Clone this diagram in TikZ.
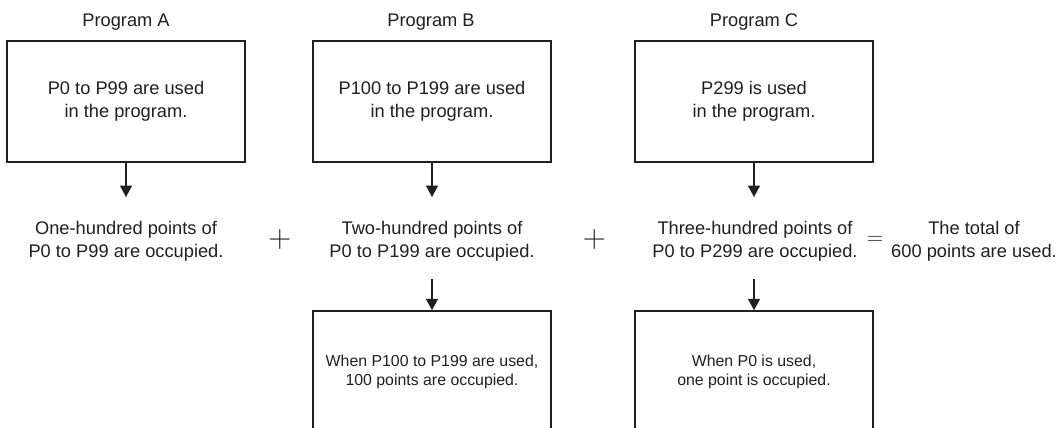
\documentclass[tikz,border=0pt]{standalone}
\usepackage{fontspec}
\setmainfont{Liberation Sans}
\newfontfamily\lmrfont{Latin Modern Roman}
\usetikzlibrary{arrows.meta}
\definecolor{ink}{RGB}{35,31,32}
\newcommand\txtmain{\fontsize{13.7}{17.2}\selectfont}
\newcommand\txtsml{\fontsize{11.9}{14.3}\selectfont}
\tikzset{
  progbox/.style={draw=ink, line width=1.2pt, minimum width=178.5pt, minimum height=90.75pt,
    align=center, inner sep=0pt, font=\txtmain, text=ink},
  smallbox/.style={progbox, font=\txtsml},
  title/.style={anchor=base, inner sep=0pt, font=\txtmain, text=ink},
  midtext/.style={align=center, inner sep=0pt, font=\txtmain, text=ink},
  opsign/.style={inner sep=0pt, text=ink},
  arr/.style={draw=ink, line width=0.9pt, -{Triangle[width=9pt,length=8.5pt]}}
}
\begin{document}
\begin{tikzpicture}[x=0.75pt,y=-0.75pt]
\clip (0,0) rectangle (1063,428);
\fill[white] (0,0) rectangle (1063,428);
% titles
\node[title] (tA) at (126,27) {Program A};
\node[title] (tB) at (431,27) {Program B};
\node[title] (tC) at (754,27) {Program C};
% top boxes
\node[progbox] (boxA) at (126,101.5) {P0 to P99 are used\\in the program.};
\node[progbox] (boxB) at (432,101.5) {P100 to P199 are used\\in the program.};
\node[progbox] (boxC) at (754,101.5) {P299 is used\\in the program.};
% middle texts
\node[midtext] (midA) at (126,241) {One-hundred points of\\P0 to P99 are occupied.};
\node[midtext] (midB) at (432,241) {Two-hundred points of\\P0 to P199 are occupied.};
\node[midtext] (midC) at (755,241) {Three-hundred points of\\P0 to P299 are occupied.};
\node[midtext] (total) at (974,241) {The total of\\600 points are used.};
% operators
\node[opsign, font=\lmrfont\fontsize{24}{24}\selectfont] (plus1) at (280,240) {+};
\node[opsign, font=\lmrfont\fontsize{24}{24}\selectfont] (plus2) at (594.5,240) {+};
\node[opsign, font=\lmrfont\fontsize{17}{17}\selectfont] (eq) at (875,240) {=};
% bottom boxes
\node[smallbox] (boxB2) at (432,371.5) {When P100 to P199 are used,\\100 points are occupied.};
\node[smallbox] (boxC2) at (754,371.5) {When P0 is used,\\one point is occupied.};
% arrow ends
\coordinate (aA) at (126,197);
\coordinate (aB) at (432,197);
\coordinate (aC) at (754,197);
\coordinate (sB) at (432,279);
\coordinate (sC) at (754,279);
\draw[arr] (boxA.south) -- (aA);
\draw[arr] (boxB.south) -- (aB);
\draw[arr] (boxC.south) -- (aC);
\draw[arr] (sB) -- (boxB2.north);
\draw[arr] (sC) -- (boxC2.north);
\end{tikzpicture}
\end{document}
